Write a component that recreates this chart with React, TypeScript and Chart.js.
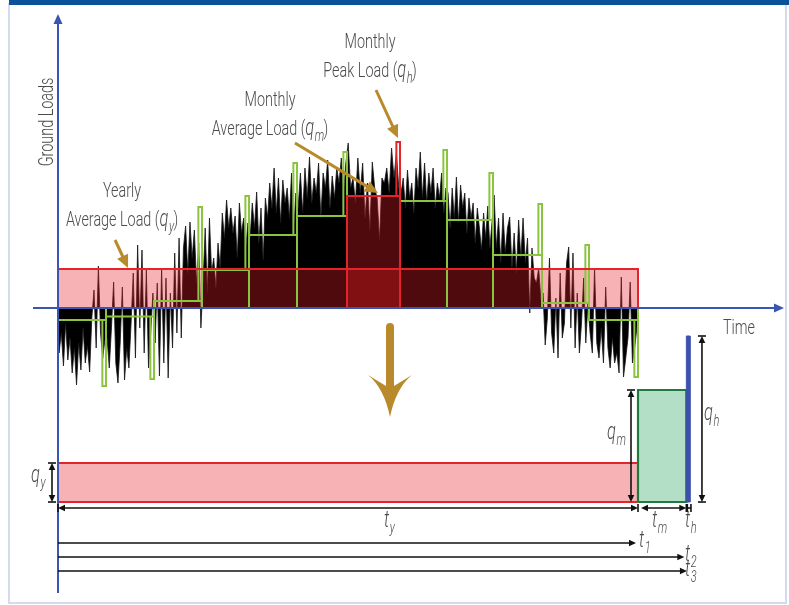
import React, { useEffect, useRef } from "react";
import { Chart, registerables } from "chart.js";

Chart.register(...registerables);

const W = 789;
const H = 605;

// ---------- data (x in months, y in load units) ----------
const monthNames = ["Jan", "Feb", "Mar", "Apr", "May", "Jun", "Jul", "Aug", "Sep", "Oct", "Nov", "Dec"];
const monthEdges = [0, 0.993, 1.986, 2.979, 3.952, 4.945, 5.979, 7.076, 8.048, 9.0, 10.014, 10.986, 12];
const monthlyAverage = [-1.2, -0.85, 0.7, 3.8, 7.3, 9.2, 11.2, 10.7, 8.8, 5.3, 0.5, -1.2];
const monthlyPeak = [-7.8, -7.1, 10.1, 11.2, 14.5, 15.6, 16.6, 15.8, 13.5, 10.4, 6.3, -6.9];
const yearlyAverage = 3.9;
const peakMonthIndex = 6;
const peakDuration = 0.075; // months
const yearDuration = 12;
const monthDuration = 1;

const hourlyJan = [-4.5, -2.5, -5.8, -1.5, -5.2, -3.0, -6.5, -4.0, -7.7, -3.5, -6.2, -2.0, -5.5, -3.8, -6.4, -1.0, 1.8, -4.0, 4.2, -2.5, -5.0, -3.2];
const hourlyFeb = [-3.0, -6.0, -2.0, 2.6, -5.5, -7.5, -3.5, 2.1, -7.2, -4.0, -6.0, -1.5, 3.5, -5.0, 6.3, -2.0, 5.8, -4.5, 3.8, -6.0, -2.5, 1.5];
const hourlyMar = [-3.5, 2.5, -6.8, 4.0, -5.5, 3.0, -7.0, 1.5, -4.0, 5.5, -2.5, 7.0, -3.0, 6.0, 8.2, 3.5, 8.6, 5.0, 7.8, 2.5, 6.5, -2.0];
const hourlyApr = [2.5, 8.0, 1.5, 9.0, 3.5, 5.0, 2.0, 6.5, 4.0, 9.5, 7.0, 10.8, 8.0, 10.0, 7.5, 9.2, 5.0, 10.5, 7.5, 9.0, 6.0, 8.5];
const hourlyMay = [7.0, 10.5, 8.0, 11.6, 6.5, 10.0, 4.8, 11.0, 9.0, 12.5, 10.0, 14.0, 9.5, 13.0, 8.5, 12.8, 10.5, 12.0, 9.0, 13.5, 8.0, 11.5];
const hourlyJun = [10.0, 13.5, 9.5, 14.0, 11.0, 15.1, 10.5, 13.0, 11.5, 14.5, 9.0, 13.5, 12.0, 14.8, 10.0, 13.2, 11.0, 14.0, 12.5, 15.0, 11.5, 14.5];
const hourlyJul = [16.5, 12.0, 13.0, 10.5, 15.0, 11.5, 14.5, 9.0, 12.5, 7.8, 14.6, 12.0, 11.0, 6.8, 13.0, 12.5, 14.0, 11.5, 16.0, 13.0, 15.5, 12.0];
const hourlyAug = [11.5, 13.0, 10.0, 13.8, 11.0, 12.5, 9.5, 14.0, 12.0, 15.6, 11.0, 14.5, 10.5, 13.5, 11.5, 14.0, 10.0, 12.5, 11.0, 13.5, 9.5, 12.0];
const hourlySep = [11.5, 8.0, 12.0, 9.0, 13.1, 8.5, 12.3, 10.0, 11.5, 7.5, 11.0, 9.0, 10.5, 6.5, 10.0, 8.0, 5.8, 9.5, 7.0, 10.2, 6.0, 8.5];
const hourlyOct = [11.3, 6.0, 9.0, 4.5, 9.5, 5.5, 8.0, 9.1, 4.0, 7.5, 3.5, 8.8, 5.0, 9.0, 4.5, 7.0, -0.5, 6.0, 3.0, 2.5, 4.0, 0.8];
const hourlyNov = [1.5, -3.7, -1.0, 5.0, -2.5, -4.5, 1.0, -5.0, 3.5, -3.0, -1.5, 4.5, 6.1, -2.0, 5.5, -4.0, 1.5, -4.5, -1.5, 3.0, -3.5, 0.5];
const hourlyDec = [-2.5, -4.5, 4.0, -3.5, -5.0, -2.0, -5.5, 2.1, -4.0, -6.0, -3.0, -5.5, -4.5, -6.5, 3.1, -6.9, -5.0, -3.0, 2.6, -5.5, -4.0, -2.0];
const hourlyLoad = [hourlyJan, hourlyFeb, hourlyMar, hourlyApr, hourlyMay, hourlyJun, hourlyJul, hourlyAug, hourlySep, hourlyOct, hourlyNov, hourlyDec];

// layout constant: the lower (simplified) panel sits below the upper one
const LOWER_BASE = -19.4;

// ---------- colours ----------
const AXIS = "#3b55b3";
const PINK = "rgba(230,28,36,0.34)";
const RED = "#e3252b";
const GREEN = "#8bc540";
const DKGREEN = "#1f7a3e";
const MINT = "#b4dfc7";
const BLUE = "#3c4fae";
const GOLD = "#b88a2c";
const TEXT = "#4b4b4b";
const FAM = 'Roboto, "Liberation Sans", sans-serif';

type P = { x: number; y: number | null };

function loadPoints(): P[] {
  const pts: P[] = [{ x: 0, y: 0 }];
  hourlyLoad.forEach((vals, i) => {
    const a = monthEdges[i];
    const b = monthEdges[i + 1];
    vals.forEach((v, j) => pts.push({ x: a + ((j + 0.5) / vals.length) * (b - a), y: v }));
  });
  pts.push({ x: 12, y: 0 });
  return pts;
}

function box(x0: number, x1: number, y0: number, y1: number, closed: boolean): P[] {
  const p: P[] = [
    { x: x0, y: y0 },
    { x: x0, y: y1 },
    { x: x1, y: y1 },
    { x: x1, y: y0 },
  ];
  if (closed) p.push({ x: x0, y: y0 });
  p.push({ x: x1, y: null });
  return p;
}

function greenOutline(): P[] {
  const pts: P[] = [];
  monthNames.forEach((_, i) => {
    if (i === peakMonthIndex) return;
    const a = monthEdges[i];
    const b = monthEdges[i + 1];
    pts.push(...box(a, b, 0, monthlyAverage[i], false));
    pts.push(...box(b - peakDuration, b, monthlyAverage[i], monthlyPeak[i], false));
  });
  return pts;
}

function redOutline(): P[] {
  const i = peakMonthIndex;
  const a = monthEdges[i];
  const b = monthEdges[i + 1];
  return [
    ...box(0, yearDuration, 0, yearlyAverage, false),
    ...box(a, b, 0, monthlyAverage[i], false),
    ...box(b - peakDuration, b, monthlyAverage[i], monthlyPeak[i], false),
  ];
}

function lineDs(data: P[], color: string, width: number, order: number, extra: any = {}) {
  return {
    type: "line" as const,
    data,
    borderColor: color,
    borderWidth: width,
    pointRadius: 0,
    tension: 0,
    fill: false,
    spanGaps: false,
    borderJoinStyle: "miter" as const,
    order,
    ...extra,
  };
}

// ---------- drawing helpers ----------
function head(ctx: CanvasRenderingContext2D, x: number, y: number, ang: number, len: number, half: number) {
  const c = Math.cos(ang), s = Math.sin(ang);
  ctx.beginPath();
  ctx.moveTo(x, y);
  ctx.lineTo(x - len * c + half * s, y - len * s - half * c);
  ctx.lineTo(x - len * c - half * s, y - len * s + half * c);
  ctx.closePath();
  ctx.fill();
}

function seg(ctx: CanvasRenderingContext2D, x1: number, y1: number, x2: number, y2: number) {
  ctx.beginPath();
  ctx.moveTo(x1, y1);
  ctx.lineTo(x2, y2);
  ctx.stroke();
}

function dim(
  ctx: CanvasRenderingContext2D,
  x1: number, y1: number, x2: number, y2: number,
  o: { h1?: boolean; h2?: boolean; c1?: boolean; c2?: boolean }
) {
  const ang = Math.atan2(y2 - y1, x2 - x1);
  const c = Math.cos(ang), s = Math.sin(ang);
  const hl = 7, hh = 3.3, cap = 4;
  ctx.beginPath();
  ctx.moveTo(x1 + (o.h1 ? c * 3 : 0), y1 + (o.h1 ? s * 3 : 0));
  ctx.lineTo(x2 - (o.h2 ? c * 3 : 0), y2 - (o.h2 ? s * 3 : 0));
  ctx.stroke();
  if (o.h2) head(ctx, x2, y2, ang, hl, hh);
  if (o.h1) head(ctx, x1, y1, ang + Math.PI, hl, hh);
  if (o.c1) seg(ctx, x1 - s * cap, y1 + c * cap, x1 + s * cap, y1 - c * cap);
  if (o.c2) seg(ctx, x2 - s * cap, y2 + c * cap, x2 + s * cap, y2 - c * cap);
}

type Piece = { t: string; f: "n" | "i" | "s" };
const FONTS = {
  n: `300 21px ${FAM}`,
  i: `italic 300 24px ${FAM}`,
  s: `italic 300 16px ${FAM}`,
};

function rich(ctx: CanvasRenderingContext2D, pieces: Piece[], x: number, y: number, align: string, sx: number) {
  const ws = pieces.map((p) => {
    ctx.font = FONTS[p.f];
    return ctx.measureText(p.t).width;
  });
  const w = ws.reduce((a, b) => a + b, 0);
  ctx.save();
  ctx.translate(x, y);
  ctx.scale(sx, 1);
  ctx.textAlign = "left";
  ctx.textBaseline = "alphabetic";
  let cx = align === "center" ? -w / 2 : align === "right" ? -w : 0;
  pieces.forEach((p, k) => {
    ctx.font = FONTS[p.f];
    ctx.fillText(p.t, cx + (p.f === "s" ? 1 : 0), p.f === "s" ? 6 : 0);
    cx += ws[k];
  });
  ctx.restore();
}

function sym(base: string, sub: string): Piece[] {
  return [
    { t: base, f: "i" },
    { t: sub, f: "s" },
  ];
}

const decor = {
  id: "decor",
  beforeDraw(chart: any) {
    const ctx: CanvasRenderingContext2D = chart.ctx;
    ctx.save();
    ctx.fillStyle = "#ffffff";
    ctx.fillRect(0, 0, W, H);
    ctx.strokeStyle = "#d6daee";
    ctx.lineWidth = 2;
    ctx.strokeRect(9, 4, 777, 599);
    ctx.fillStyle = "#0a5299";
    ctx.fillRect(9, 0, W - 9, 5);
    ctx.restore();
  },
  afterDatasetsDraw(chart: any) {
    const ctx: CanvasRenderingContext2D = chart.ctx;
    const xs = chart.scales.x;
    const ys = chart.scales.y;
    const X = (v: number) => xs.getPixelForValue(v);
    const Y = (v: number) => ys.getPixelForValue(v);
    const x0 = X(0);
    const y0 = Y(0);
    const pm = peakMonthIndex;
    ctx.save();

    // axes
    ctx.strokeStyle = AXIS;
    ctx.fillStyle = AXIS;
    ctx.lineWidth = 2;
    seg(ctx, x0, 593, x0, 22);
    head(ctx, x0, 14, -Math.PI / 2, 10, 4.5);
    seg(ctx, 33, y0, 776, y0);
    head(ctx, 784, y0, 0, 10, 4.5);

    // text scale
    ctx.font = FONTS.n;
    const sx = 51 / ctx.measureText("Monthly").width;
    ctx.fillStyle = TEXT;

    rich(ctx, [{ t: "Monthly", f: "n" }], 370, 48, "center", sx);
    rich(ctx, [{ t: "Peak Load (", f: "n" }, ...sym("q", "h"), { t: ")", f: "n" }], 370, 77, "center", sx);
    rich(ctx, [{ t: "Monthly", f: "n" }], 270, 106, "center", sx);
    rich(ctx, [{ t: "Average Load (", f: "n" }, ...sym("q", "m"), { t: ")", f: "n" }], 270, 135, "center", sx);
    rich(ctx, [{ t: "Yearly", f: "n" }], 122, 197, "center", sx);
    rich(ctx, [{ t: "Average Load (", f: "n" }, ...sym("q", "y"), { t: ")", f: "n" }], 122, 226, "center", sx);
    rich(ctx, [{ t: "Time", f: "n" }], 723, 334, "left", sx);

    ctx.save();
    ctx.translate(53, 122);
    ctx.rotate(-Math.PI / 2);
    rich(ctx, [{ t: "Ground Loads", f: "n" }], 0, 0, "center", sx);
    ctx.restore();

    // gold pointer arrows
    ctx.strokeStyle = GOLD;
    ctx.fillStyle = GOLD;
    ctx.lineWidth = 3;
    const pointer = (tx: number, ty: number, dx: number, dy: number) => {
      const ang = Math.atan2(-dy, -dx);
      seg(ctx, tx + dx, ty + dy, tx - Math.cos(ang) * 8, ty - Math.sin(ang) * 8);
      head(ctx, tx, ty, ang, 13, 6);
    };
    pointer(X(1.45), Y(yearlyAverage) - 1, -13, -28);
    pointer(X(6.62), Y(monthlyAverage[pm]) - 3, -83, -50);
    pointer(X(monthEdges[pm + 1]) - 2, Y(monthlyPeak[pm]) - 4, -22, -48);

    // big down arrow
    const ax = 390;
    ctx.lineCap = "round";
    ctx.lineWidth = 8;
    seg(ctx, ax, 327, ax, 388);
    ctx.lineCap = "butt";
    ctx.beginPath();
    ctx.moveTo(ax - 4, 386);
    ctx.lineTo(ax - 22, 375);
    ctx.quadraticCurveTo(ax - 6, 388, ax, 417);
    ctx.quadraticCurveTo(ax + 6, 388, ax + 22, 375);
    ctx.lineTo(ax + 4, 386);
    ctx.closePath();
    ctx.fill();

    // dimension arrows of the lower panel
    const yB = Y(LOWER_BASE);
    const yQy = Y(LOWER_BASE + yearlyAverage);
    const yQm = Y(LOWER_BASE + monthlyAverage[pm]);
    const yQh = Y(LOWER_BASE + monthlyPeak[pm]);
    const xE = X(yearDuration);
    const xM = X(yearDuration + monthDuration);
    const xH = X(yearDuration + monthDuration + peakDuration);
    ctx.strokeStyle = "#111";
    ctx.fillStyle = "#111";
    ctx.lineWidth = 1.6;

    dim(ctx, x0 - 6, yQy, x0 - 6, yB, { h1: true, h2: true, c1: true, c2: true });
    const yt = yB + 6;
    dim(ctx, x0, yt, xE, yt, { h1: true, h2: true, c1: true, c2: true });
    dim(ctx, xE + 3, yt, xM, yt, { h1: true, h2: true, c2: true });
    dim(ctx, xM + 1, yt, xH + 1, yt, { c1: true, c2: true });
    dim(ctx, xE - 7, yQm, xE - 7, yB, { h1: true, h2: true, c1: true });
    dim(ctx, xH + 12, yQh, xH + 12, yB, { h1: true, h2: true, c1: true, c2: true });
    dim(ctx, x0, yB + 41, xE - 2, yB + 41, { h2: true });
    dim(ctx, x0, yB + 55, xM - 2, yB + 55, { h2: true });
    dim(ctx, x0, yB + 69, xH - 3, yB + 69, { h2: true });

    ctx.fillStyle = TEXT;
    rich(ctx, sym("q", "y"), 31, 482, "left", sx);
    rich(ctx, sym("t", "y"), 384, 527, "left", sx);
    rich(ctx, sym("q", "m"), 607, 439, "left", sx);
    rich(ctx, sym("q", "h"), 704, 420, "left", sx);
    rich(ctx, sym("t", "m"), 652, 527, "left", sx);
    rich(ctx, sym("t", "h"), 685, 527, "left", sx);
    rich(ctx, sym("t", "1"), 639, 547, "left", sx);
    rich(ctx, sym("t", "2"), 685, 561, "left", sx);
    rich(ctx, sym("t", "3"), 685, 576, "left", sx);

    ctx.restore();
  },
};

export default function App() {
  const ref = useRef<HTMLCanvasElement>(null);
  useEffect(() => {
    const pm = peakMonthIndex;
    const a = monthEdges[pm];
    const b = monthEdges[pm + 1];
    const B = LOWER_BASE;
    const tY = yearDuration;
    const tM = yearDuration + monthDuration;
    const tH = tM + peakDuration;
    const datasets: any[] = [
      lineDs(loadPoints(), "#151515", 0.8, 20, { fill: "origin", backgroundColor: "#000" }),
      lineDs([{ x: 0, y: yearlyAverage }, { x: tY, y: yearlyAverage }], "rgba(0,0,0,0)", 0, 19, { fill: "origin", backgroundColor: PINK }),
      lineDs([{ x: a, y: monthlyAverage[pm] }, { x: b, y: monthlyAverage[pm] }], "rgba(0,0,0,0)", 0, 18, { fill: "origin", backgroundColor: PINK }),
      lineDs(greenOutline(), GREEN, 2, 17),
      lineDs(redOutline(), RED, 2, 16),
      lineDs([{ x: 0, y: B + yearlyAverage }, { x: tY, y: B + yearlyAverage }], "rgba(0,0,0,0)", 0, 15, { fill: { value: B }, backgroundColor: PINK }),
      lineDs([{ x: tY, y: B + monthlyAverage[pm] }, { x: tM, y: B + monthlyAverage[pm] }], "rgba(0,0,0,0)", 0, 15, { fill: { value: B }, backgroundColor: MINT }),
      lineDs([{ x: tM, y: B + monthlyPeak[pm] }, { x: tH, y: B + monthlyPeak[pm] }], "rgba(0,0,0,0)", 0, 15, { fill: { value: B }, backgroundColor: BLUE }),
      lineDs(box(0, tY, B, B + yearlyAverage, true), RED, 2, 14),
      lineDs(box(tY, tM, B, B + monthlyAverage[pm], true), DKGREEN, 2.2, 13),
      lineDs(box(tM, tH, B, B + monthlyPeak[pm], true), BLUE, 1, 12),
    ];
    const chart = new Chart(ref.current as HTMLCanvasElement, {
      type: "line",
      data: { datasets },
      options: {
        responsive: false,
        animation: false,
        devicePixelRatio: 1,
        events: [],
        layout: { padding: { left: 58 - 48.3333, right: 6, top: 0, bottom: 0 } },
        scales: {
          x: { type: "linear", min: -1, max: 15, display: false },
          y: { type: "linear", min: -29.7, max: 30.8, display: false },
        },
        plugins: { legend: { display: false }, tooltip: { enabled: false } },
      },
      plugins: [decor],
    } as any);
    return () => chart.destroy();
  }, []);
  return (
    <div style={{ position: "absolute", left: 0, top: 0, width: W, height: H, background: "#fff" }}>
      <canvas ref={ref} width={W} height={H} style={{ display: "block", width: W, height: H }} />
    </div>
  );
}
